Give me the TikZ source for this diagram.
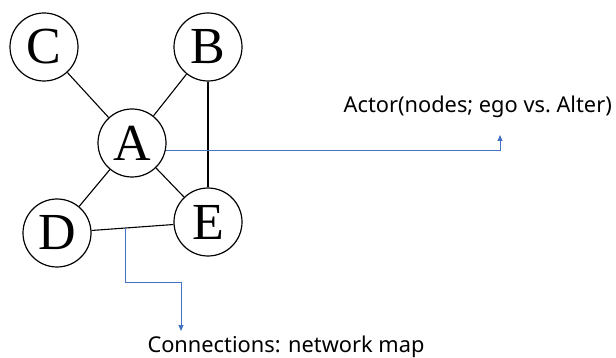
\documentclass[tikz,border=0pt]{standalone}
\usepackage{fontspec}
\setmainfont{Liberation Serif}
\newfontfamily\labelfont{Noto Sans}
\usetikzlibrary{arrows.meta}
\begin{document}
\begin{tikzpicture}[x=1pt,y=-1pt,
  actor/.style={draw, circle, line width=1.2pt, minimum size=68pt, inner sep=0pt,
    font=\fontsize{52}{52}\selectfont},
  tie/.style={line width=1.1pt},
  pointer/.style={draw={rgb,255:red,68;green,114;blue,196}, line width=0.9pt,
    -{Triangle[width=5pt,length=6pt]}},
  caption/.style={font=\labelfont\fontsize{21.8}{22}\selectfont, inner sep=0pt}]
\useasboundingbox (0,0) rectangle (616,358);
% actors
\node[actor] (C) at (44,47) {C};
\node[actor] (B) at (208,47) {B};
\node[actor] (A) at (132,143) {A};
\node[actor] (D) at (57,233) {D};
\node[actor] (E) at (208,222) {E};
% ties
\draw[tie] (C) -- (A);
\draw[tie] (B) -- (A);
\draw[tie] (A) -- (D);
\draw[tie] (A) -- (E);
\draw[tie] (B) -- (E);
\draw[tie] (D) -- (E) coordinate[pos=0.41] (tie);
% annotations
\node[caption, anchor=east] (actorlbl) at (612,107) {Actor(nodes; ego vs.\ Alter)};
\node[caption] (connlbl) at (286,347) {Connections: network map};
\coordinate (actortip) at (500,135);
\coordinate (conntip) at (181,331);
\draw[pointer] (A.-13) -| (actortip);
\draw[pointer] (tie) |- (181,282) -- (conntip);
\end{tikzpicture}
\end{document}
